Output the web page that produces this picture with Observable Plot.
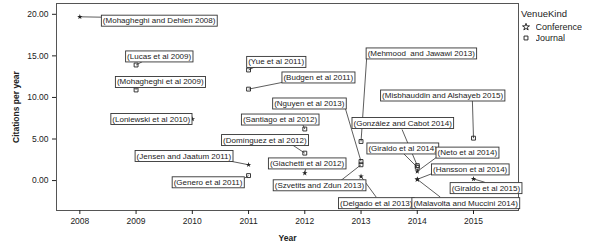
<!DOCTYPE html>
<html>
<head>
<meta charset="utf-8">
<script src="https://cdn.jsdelivr.net/npm/d3@7"></script>
<script src="https://cdn.jsdelivr.net/npm/@observablehq/plot@0.6"></script>
<style>
  html, body { margin: 0; padding: 0; background: #fff; }
  #wrap { position: relative; width: 610px; height: 249px; font-family: "Liberation Sans", Arial, sans-serif; }
  #legend { position: absolute; left: 521px; top: 8px; font-size: 9px; color: #222; }
  #legend .title { font-size: 9.5px; margin-bottom: 3px; }
  g[aria-label="y-axis label"] text, g[aria-label="x-axis label"] text { font-weight: bold; }
</style>
</head>
<body>
<div id="wrap">
  <div id="chart"></div>
  <div id="legend"><div class="title">VenueKind</div><div id="sw"></div></div>
</div>
<script>
// ---- data ----
const studies = [
  "Mohagheghi and Dehlen 2008", "Lucas et al 2009", "Mohagheghi et al 2009", "Loniewski et al 2010",
  "Yue et al 2011", "Budgen et al 2011", "Jensen and Jaatum 2011", "Genero et al 2011",
  "Santiago et al 2012", "Domínguez et al 2012", "Giachetti et al 2012",
  "Nguyen et al 2013", "Mehmood  and Jawawi 2013", "Szvetits and Zdun 2013", "Delgado et al 2013",
  "González and Cabot 2014", "Giraldo et al 2014", "Neto et al 2014", "Hansson et al 2014", "Malavolta and Muccini 2014",
  "Giraldo et al 2015", "Misbhauddin and Alshayeb 2015"
];
const years = [2008, 2009, 2009, 2010, 2011, 2011, 2011, 2011, 2012, 2012, 2012,
  2013, 2013, 2013, 2013, 2014, 2014, 2014, 2014, 2014, 2015, 2015];
const citationsPerYear = [19.7, 13.9, 10.9, 7.4, 13.3, 11.0, 1.9, 0.6, 6.2, 3.3, 0.9,
  2.3, 4.7, 1.9, 0.5, 1.8, 1.6, 1.1, 0.15, 0.15, 0.2, 5.1];
const venueKinds = ["Conference", "Journal", "Journal", "Conference", "Journal", "Journal", "Conference", "Journal",
  "Journal", "Journal", "Conference", "Journal", "Journal", "Journal", "Conference",
  "Journal", "Journal", "Conference", "Conference", "Conference", "Conference", "Journal"];
// label anchors (in data units: year, citations per year)
const labelYears = [2009.41, 2009.41, 2009.43, 2009.27, 2011.49, 2012.24, 2009.85, 2010.28, 2011.56, 2011.29, 2012.04,
  2012.08, 2014.07, 2012.26, 2013.27, 2013.74, 2013.74, 2014.89, 2014.94, 2014.86, 2015.22, 2014.45];
const labelValues = [19.24, 14.94, 11.87, 7.41, 14.28, 12.41, 2.96, -0.2, 7.35, 4.88, 2.07,
  9.28, 15.3, -0.56, -2.71, 6.93, 3.87, 3.37, 1.35, -2.71, -0.9, 10.24];
// where each leader line meets its label box (data units)
const leaderYears = [2008.405, 2009.11, 2009.0, 2009.97, 2011.15, 2011.63, 2010.68, 2010.89, 2011.96, 2011.75, 2012.02,
  2012.70, 2013.10, 2012.64, 2013.27, 2013.73, 2013.76, 2014.36, 2014.28, 2014.41, 2015.20, 2014.98];
const leaderValues = [19.65, 14.3, 11.2, 7.4, 13.8, 11.85, 2.33, 0.12, 6.8, 4.42, 1.5,
  9.16, 14.7, 0.0, -1.99, 6.14, 3.22, 2.89, 0.88, -1.99, -0.2, 9.64];
const kindDomain = ["Conference", "Journal"];
const xTicks = [2008, 2009, 2010, 2011, 2012, 2013, 2014, 2015];
const yTicks = [0, 5, 10, 15, 20];

const data = studies.map((s, i) => ({
  study: s, label: "(" + s + ")", year: years[i], value: citationsPerYear[i], kind: venueKinds[i],
  lx: labelYears[i], ly: labelValues[i], ex: leaderYears[i], ey: leaderValues[i]
}));

const chart = Plot.plot({
  width: 610,
  height: 249,
  marginLeft: 56,
  marginRight: 92,
  marginTop: 3,
  marginBottom: 39,
  style: { fontFamily: "'Liberation Sans', Arial, sans-serif", fontSize: "8.5px", color: "#222", background: "#fff" },
  x: { domain: [2007.585, 2015.8] },
  y: { domain: [-3.6, 21.3] },
  symbol: { domain: kindDomain, range: ["star", "square"] },
  marks: [
    Plot.frame({ stroke: "#555", strokeWidth: 1 }),
    Plot.axisX({ ticks: xTicks, tickFormat: d => String(d), tickSize: 4, tickPadding: 3, label: "Year", labelArrow: "none", labelAnchor: "center", labelOffset: 30, fontSize: 8.5 }),
    Plot.axisY({ ticks: yTicks, tickFormat: d3.format(".2f"), tickSize: 4, tickPadding: 4, label: "Citations per year", labelAnchor: "center", labelArrow: "none", labelOffset: 44, fontSize: 8.5 }),
    Plot.link(data, { x1: "year", y1: "value", x2: "ex", y2: "ey", stroke: "#333", strokeWidth: 0.8 }),
    Plot.dot(data.filter(d => d.kind === "Journal"), { x: "year", y: "value", symbol: "kind", r: 2.2, stroke: "#222", fill: "none", strokeWidth: 0.9 }),
    Plot.dot(data.filter(d => d.kind === "Conference"), { x: "year", y: "value", symbol: "kind", r: 1.7, fill: "#222", stroke: "none" }),
    Plot.text(data, { x: "lx", y: "ly", text: "label", fontSize: 8, fill: "#222" })
  ]
});
document.getElementById("chart").appendChild(chart);

// draw white boxes behind each label text
chart.querySelectorAll('g[aria-label="text"] text').forEach(t => {
  const b = t.getBBox();
  const r = document.createElementNS("http://www.w3.org/2000/svg", "rect");
  r.setAttribute("x", b.x - 1.5);
  r.setAttribute("y", b.y - 1);
  r.setAttribute("width", b.width + 3);
  r.setAttribute("height", b.height + 2);
  r.setAttribute("fill", "#fff");
  r.setAttribute("stroke", "#333");
  r.setAttribute("stroke-width", "0.9");
  if (t.getAttribute("transform")) r.setAttribute("transform", t.getAttribute("transform"));
  t.parentNode.insertBefore(r, t);
});

const leg = chart.legend("symbol", { stroke: "#222", fill: "none", r: 3.5, columns: 1, swatchSize: 10,
  style: { fontFamily: "'Liberation Sans', Arial, sans-serif", fontSize: "9px" } });
document.getElementById("sw").appendChild(leg);
</script>
</body>
</html>
